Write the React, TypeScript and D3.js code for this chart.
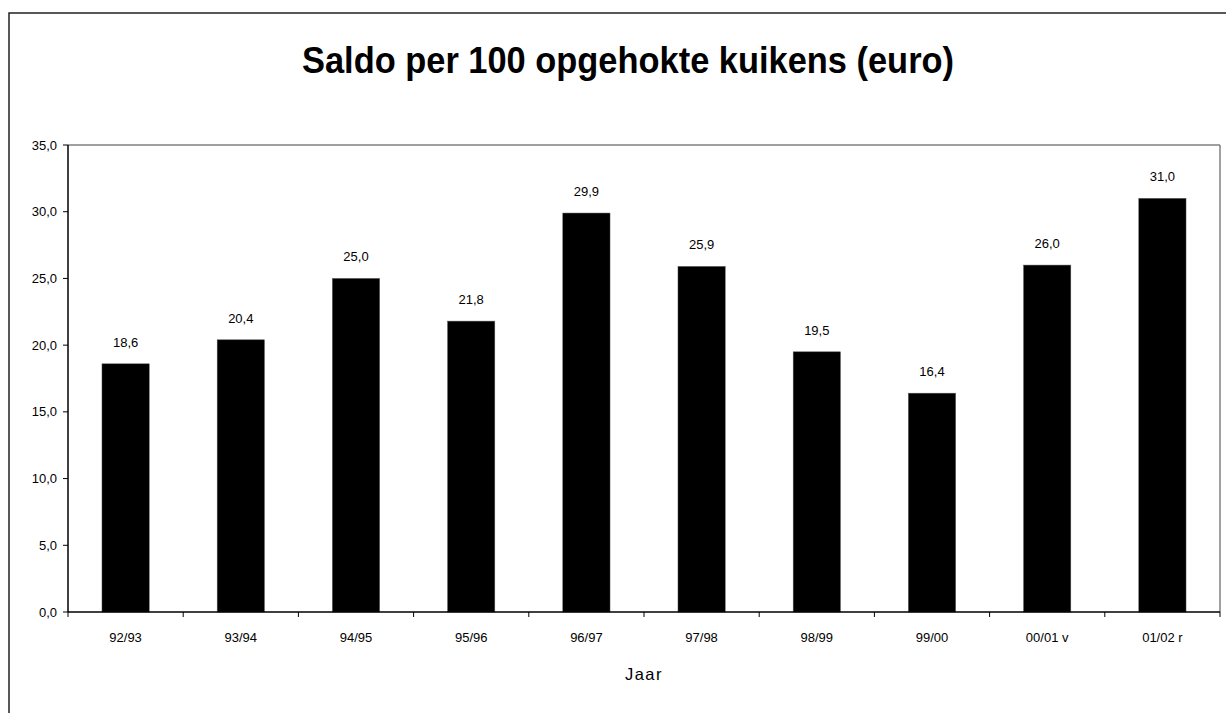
import React from "react";
import * as d3 from "d3";

const categories = ["92/93", "93/94", "94/95", "95/96", "96/97", "97/98", "98/99", "99/00", "00/01 v", "01/02 r"];
const values = [18.6, 20.4, 25.0, 21.8, 29.9, 25.9, 19.5, 16.4, 26.0, 31.0];
const yTicks = [0, 5, 10, 15, 20, 25, 30, 35];
const title = "Saldo per 100 opgehokte kuikens (euro)";
const xTitle = "Jaar";

const W = 1226;
const H = 713;
const plot = { left: 68, right: 1220, top: 145, bottom: 612 };
const fmt = (v: number) => v.toFixed(1).replace(".", ",");

export default function App() {
  const x = d3.scaleBand<string>().domain(categories).range([plot.left, plot.right]).paddingInner(0.59).paddingOuter(0.295);
  const xb = d3.scaleBand<string>().domain(categories).range([plot.left, plot.right]);
  const y = d3.scaleLinear().domain([0, 35]).range([plot.bottom, plot.top]);
  const font = "Arial, 'Liberation Sans', Helvetica, sans-serif";
  return (
    <svg width={W} height={H} style={{ position: "absolute", left: 0, top: 0, display: "block", background: "#fff" }} fontFamily={font}>
      <rect x={9} y={13} width={1400} height={1000} fill="#fff" stroke="#222" strokeWidth={1.5} />
      <text x={628} y={73} textAnchor="middle" fontSize={37} fontWeight="bold" textLength={652} lengthAdjust="spacingAndGlyphs">{title}</text>
      {/* plot frame */}
      <line x1={plot.left} x2={plot.right} y1={plot.top} y2={plot.top} stroke="#808080" strokeWidth={1.5} />
      <line x1={plot.right} x2={plot.right} y1={plot.top} y2={plot.bottom} stroke="#808080" strokeWidth={1.5} />
      {/* bars */}
      {categories.map((c, i) => (
        <g key={c}>
          <rect x={x(c)} y={y(values[i])} width={x.bandwidth()} height={plot.bottom - y(values[i])} fill="#000" stroke="#555" strokeWidth={0.5} />
          <text x={(x(c) as number) + x.bandwidth() / 2} y={y(values[i]) - 17} textAnchor="middle" fontSize={13} fill="#000">{fmt(values[i])}</text>
          <text x={(xb(c) as number) + xb.bandwidth() / 2} y={642} textAnchor="middle" fontSize={13} fill="#000">{c}</text>
        </g>
      ))}
      {/* axes */}
      <line x1={plot.left} x2={plot.left} y1={plot.top} y2={plot.bottom} stroke="#000" strokeWidth={1.5} />
      <line x1={plot.left} x2={plot.right} y1={plot.bottom} y2={plot.bottom} stroke="#000" strokeWidth={1.5} />
      {yTicks.map((t) => (
        <g key={t}>
          <line x1={plot.left - 5} x2={plot.left} y1={y(t)} y2={y(t)} stroke="#000" strokeWidth={1} />
          <text x={plot.left - 11} y={y(t) + 4.5} textAnchor="end" fontSize={13} fill="#000">{fmt(t)}</text>
        </g>
      ))}
      {categories.concat(["end"]).map((c, i) => {
        const xx = plot.left + i * xb.step();
        return <line key={c + i} x1={xx} x2={xx} y1={plot.bottom} y2={plot.bottom + 5} stroke="#000" strokeWidth={1} />;
      })}
      <text x={(plot.left + plot.right) / 2} y={680} textAnchor="middle" fontSize={16.5} letterSpacing={1.5} fill="#000">{xTitle}</text>
    </svg>
  );
}
